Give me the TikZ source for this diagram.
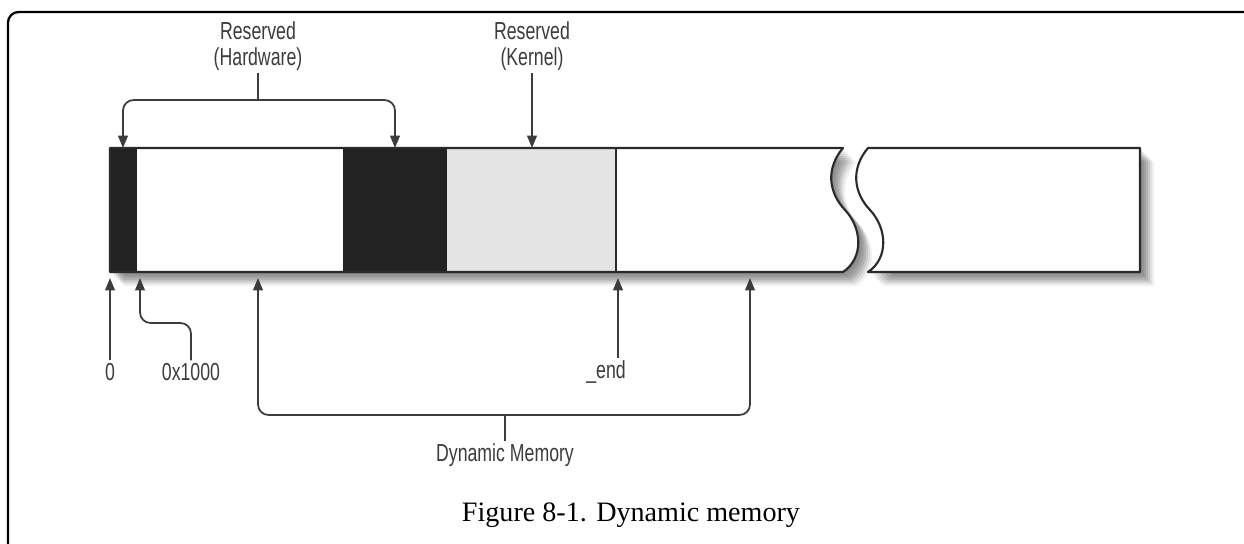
\documentclass[tikz,border=0pt]{standalone}
\usepackage{fontspec}
\setmainfont{Liberation Serif}
\newfontfamily\lab[FakeStretch=0.72]{Liberation Sans}
\usetikzlibrary{arrows.meta}
\definecolor{blk}{HTML}{222222}
\definecolor{kgray}{HTML}{E4E4E4}
\definecolor{lnc}{HTML}{3C3C3C}
\definecolor{outl}{HTML}{2A2A2A}
\tikzset{
  lbl/.style={font=\lab\fontsize{14}{14.5}\selectfont, text=lnc, align=center, inner sep=1.5pt},
  conn/.style={draw=lnc, line width=1pt},
  arr/.style={conn, -{Triangle[length=7pt,width=5.5pt]}},
  outline/.style={draw=outl, line width=1.2pt, line join=round},
}
\def\pieceA{(110,148) -- (843,148) .. controls (826,168) and (828,192) .. (845,210) .. controls (862,228) and (864,258) .. (843,272) -- (110,272) -- cycle}
\def\pieceB{(868,148) -- (1140,148) -- (1140,272) -- (868,272) .. controls (889,258) and (887,228) .. (870,210) .. controls (853,192) and (851,168) .. (868,148) -- cycle}
\begin{document}
\begin{tikzpicture}[x=0.02cm,y=-0.02cm]
\useasboundingbox (0,0) rectangle (1244,544);
\fill[white] (0,0) rectangle (1244,544);
% frame
\draw[line width=1.3pt, rounded corners=6pt] (8,550) -- (8,12) -- (1250,12);
% shadows
\foreach \d/\o in {2/0.07,4/0.08,6/0.09,8/0.1,10/0.1,12/0.08,14/0.05} {
  \fill[black, opacity=\o, shift={(\d,\d)}] \pieceA;
  \fill[black, opacity=\o, shift={(\d,\d)}] \pieceB;
}
% bar
\fill[white] \pieceA;
\fill[white] \pieceB;
\fill[blk] (110,148) rectangle (137,272);
\fill[blk] (343,148) rectangle (447,272);
\fill[kgray] (447,148) rectangle (616,272);
\draw[outline] (616,148) -- (616,272);
\draw[outline] \pieceA;
\draw[outline] \pieceB;
% labels
\node[lbl] (hw) at (258,46) {Reserved\\(Hardware)};
\node[lbl] (kern) at (532,46) {Reserved\\(Kernel)};
\node[lbl] (zero) at (110,372) {0};
\node[lbl] (hex) at (191,372) {0x1000};
\node[lbl] (endl) at (606,372) {\_end};
\node[lbl] (dm) at (505,455) {Dynamic Memory};
\node[font=\fontsize{16}{18}\selectfont, anchor=base] (cap) at (631,521) {Figure 8-1. Dynamic memory};
% coordinates
\coordinate (hwL) at (123,148);
\coordinate (hwR) at (395,148);
\coordinate (hwJ) at (258,100);
\coordinate (kernT) at (532,148);
\coordinate (zeroT) at (110,278);
\coordinate (hexT) at (140,278);
\coordinate (hexK) at (140,323);
\coordinate (endT) at (618,278);
\coordinate (dmL) at (258,278);
\coordinate (dmR) at (750,278);
\coordinate (dmJ) at (505,415);
% connectors
\draw[conn] (hw.south) -- (hwJ);
\draw[arr, rounded corners=6pt] (hwJ) -| (hwL);
\draw[arr, rounded corners=6pt] (hwJ) -| (hwR);
\draw[arr] (kern.south) -- (kernT);
\draw[arr] (zero.north) -- (zeroT);
\draw[arr, rounded corners=6pt] (hex.north) |- (hexK) -- (hexT);
\draw[arr] (endT |- endl.north) -- (endT);
\draw[arr, rounded corners=6pt] (dmJ) -| (dmL);
\draw[arr, rounded corners=6pt] (dmJ) -| (dmR);
\draw[conn] (dmJ) -- (dm.north);
\end{tikzpicture}
\end{document}
